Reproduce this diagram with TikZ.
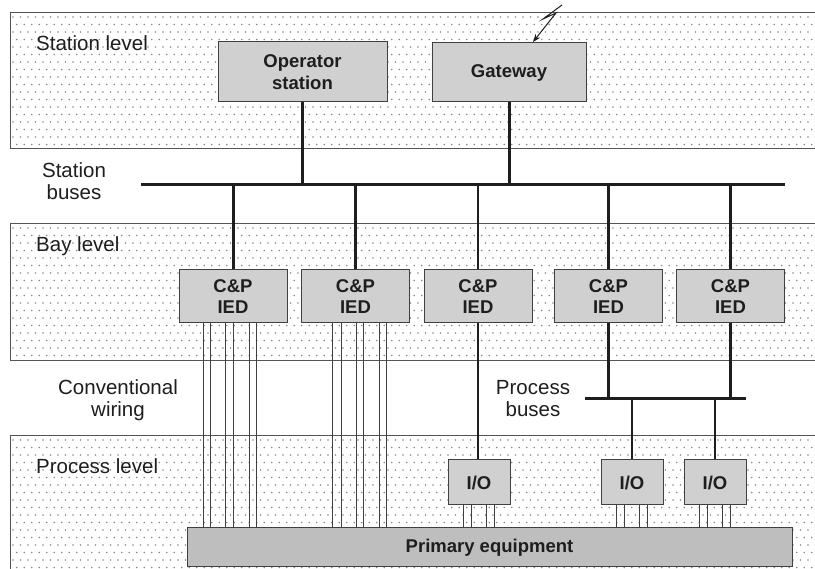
\documentclass[tikz,border=0pt]{standalone}
\usepackage{fontspec}
\setmainfont{Liberation Sans}
\usetikzlibrary{arrows.meta,calc}

\definecolor{boxfill}{HTML}{D0D0D0}
\definecolor{primfill}{HTML}{BEBEBE}
\definecolor{dotc}{HTML}{8A8A8A}
\definecolor{bandline}{HTML}{555555}
\definecolor{ink}{HTML}{1E1E1E}

\begin{document}
\begin{tikzpicture}[x=1pt,y=-1pt,
  box/.style={draw=ink!85, line width=1pt, fill=boxfill, inner sep=0pt, align=center,
              font=\fontsize{18.5}{21.5}\selectfont\bfseries, text=ink},
  lbl/.style={inner sep=0pt, align=center, font=\fontsize{20.5}{22}\selectfont, text=ink},
  bus/.style={line width=3pt, draw=ink},
  wire/.style={line width=0.8pt, draw=ink!85},
  band/.style={draw=bandline, line width=1pt},
  iedbox/.style={box, minimum width=108pt, minimum height=53pt},
  iobox/.style={box, minimum width=62pt, minimum height=45pt},
]
\useasboundingbox (0,0) rectangle (815,569);

% ---------- dotted bands ----------
\begin{scope}
  \clip (10,13) rectangle (815,149);
  \foreach \r in {0,...,18}{\fill[dotc] \foreach \c in {0,...,108}{({13+\c*7.5+mod(\r,2)*3.75},{17+\r*7.5}) circle (0.85pt)};}
\end{scope}
\begin{scope}
  \clip (10,224) rectangle (815,361);
  \foreach \r in {0,...,18}{\fill[dotc] \foreach \c in {0,...,108}{({13+\c*7.5+mod(\r,2)*3.75},{228+\r*7.5}) circle (0.85pt)};}
\end{scope}
\begin{scope}
  \clip (10,436) rectangle (815,569);
  \foreach \r in {0,...,18}{\fill[dotc] \foreach \c in {0,...,108}{({13+\c*7.5+mod(\r,2)*3.75},{440+\r*7.5}) circle (0.85pt)};}
\end{scope}
\draw[band] (815,13) -- (10,13) -- (10,149) -- (815,149);
\draw[band] (815,224) -- (10,224) -- (10,361) -- (815,361);
\draw[band] (815,436) -- (10,436) -- (10,569);

% ---------- labels ----------
\node[lbl, anchor=base west] (tStation) at (36,51) {Station level};
\node[lbl, anchor=base west] (tBay) at (36,252) {Bay level};
\node[lbl, anchor=base west] (tProcess) at (36,474) {Process level};
\node[lbl, anchor=north] (tSB) at (74,162) {Station\\buses};
\node[lbl, anchor=north] (tCW) at (118,379) {Conventional\\wiring};
\node[lbl, anchor=north] (tPB) at (533,380) {Process\\buses};

% ---------- boxes ----------
\node[box, minimum width=169pt, minimum height=60pt] (op) at (302.5,72) {Operator\\station};
\node[box, minimum width=154pt, minimum height=59pt] (gw) at (509,72.5) {Gateway};
\node[iedbox] (ied1) at (233,296.5) {C\&P\\IED};
\node[iedbox] (ied2) at (355.5,296.5) {C\&P\\IED};
\node[iedbox] (ied3) at (478,296.5) {C\&P\\IED};
\node[iedbox] (ied4) at (608.5,296.5) {C\&P\\IED};
\node[iedbox] (ied5) at (730.5,296.5) {C\&P\\IED};
\node[iobox] (io1) at (479,482.5) {I/O};
\node[iobox] (io2) at (632,482.5) {I/O};
\node[iobox] (io3) at (715,482.5) {I/O};
\node[box, fill=primfill, minimum width=605pt, minimum height=39pt] (prim) at (489.5,547.5) {Primary equipment};

% ---------- buses ----------
\coordinate (sbL) at (141,185);
\coordinate (sbR) at (785,185);
\coordinate (pbL) at (585,399);
\coordinate (pbR) at (746,399);
\draw[bus] (sbL) -- (sbR);
\draw[bus] (pbL) -- (pbR);

\draw[bus] (op.south) -- (op.south |- sbL);
\draw[bus] (gw.south) -- (gw.south |- sbL);
\foreach \n in {ied1,ied2,ied4,ied5}{\draw[bus] (\n.north) -- (\n.north |- sbL);}
\draw[bus, line width=2.2pt] (ied3.north) -- (ied3.north |- sbL);
\draw[bus, line width=2.2pt] (ied3.south) -- (ied3.south |- io1.north);
\draw[bus] (ied4.south) -- (ied4.south |- pbL);
\draw[bus, line width=2.6pt] (ied5.south) -- (ied5.south |- pbL);
\draw[bus, line width=2.6pt] (io2.north) -- (io2.north |- pbL);
\draw[bus, line width=2.6pt] (io3.north) -- (io3.north |- pbL);

% ---------- conventional wiring ----------
\foreach \d in {-30,-23,-8,0,16,23}{
  \draw[wire] ([xshift=\d pt]ied1.south) -- ([xshift=\d pt]ied1.south |- prim.north);}
\foreach \d in {-23.5,-14.5,0.5,7.5,23.5,30.5}{
  \draw[wire] ([xshift=\d pt]ied2.south) -- ([xshift=\d pt]ied2.south |- prim.north);}
\foreach \n in {io1,io2,io3}{
  \foreach \d in {-15.5,-8,7.5,15}{
    \draw[wire] ([xshift=\d pt]\n.south) -- ([xshift=\d pt]\n.south |- prim.north);}}

% ---------- radio link ----------
\coordinate (lz1) at (562,5);
\coordinate (lz2) at (543,19);
\coordinate (lz3) at (556,13);
\coordinate (ltip) at (533,42);
\draw[line width=1pt, draw=ink, -{Stealth[length=8pt,width=6pt]}] (lz1) -- (lz2) -- (lz3) -- (ltip);
\end{tikzpicture}
\end{document}
